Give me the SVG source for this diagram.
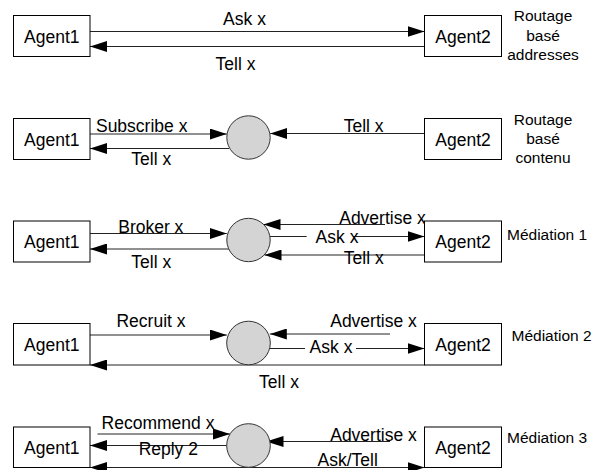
<svg xmlns="http://www.w3.org/2000/svg" width="594" height="470" viewBox="0 0 594 470">
  <defs>
    <marker id="arrow" markerUnits="userSpaceOnUse" markerWidth="17" markerHeight="11" refX="17" refY="5.5" orient="auto">
      <path d="M0,0 L17,5.5 L0,11 Z" fill="#000"/>
    </marker>
    <marker id="arrowStart" markerUnits="userSpaceOnUse" markerWidth="17" markerHeight="11" refX="0" refY="5.5" orient="auto">
      <path d="M17,0 L0,5.5 L17,11 Z" fill="#000"/>
    </marker>
  </defs>
  <style>
    .box { fill: #fff; stroke: #000; stroke-width: 1; }
    .hub { fill: #d4d4d4; stroke: #333; stroke-width: 1; }
    .edge { fill: none; stroke: #222; stroke-width: 1; }
    .arr { marker-end: url(#arrow); }
    .both { marker-start: url(#arrowStart); marker-end: url(#arrow); }
    text { font-family: "Liberation Sans", Arial, sans-serif; fill: #000; }
    .name { font-size: 17.5px; text-anchor: middle; }
    .lbl { font-size: 17.5px; text-anchor: middle; }
    .side { font-size: 15.5px; }
    .mid { text-anchor: middle; }
  </style>

  <!-- Connectors -->
  <g id="connectors">
    <!-- Routage basé addresses -->
    <line class="edge arr" x1="90" y1="31.5" x2="424.5" y2="31.5"/>
    <line class="edge arr" x1="424.5" y1="46.5" x2="90" y2="46.5"/>

    <!-- Routage basé contenu -->
    <line class="edge arr" x1="90" y1="134" x2="226.8" y2="134"/>
    <line class="edge arr" x1="229" y1="148.5" x2="90" y2="148.5"/>
    <line class="edge arr" x1="424.5" y1="133.5" x2="270.2" y2="133.5"/>

    <!-- Médiation 1 -->
    <line class="edge arr" x1="90" y1="233.5" x2="226.8" y2="233.5"/>
    <line class="edge arr" x1="229" y1="249" x2="90" y2="249"/>
    <line class="edge arr" x1="385" y1="224.5" x2="263.5" y2="224.5"/>
    <line class="edge" x1="270" y1="236.5" x2="306.7" y2="236.5"/>
    <line class="edge arr" x1="353" y1="236.5" x2="424.5" y2="236.5"/>
    <line class="edge arr" x1="424.5" y1="255" x2="264.5" y2="255"/>

    <!-- Médiation 2 -->
    <line class="edge arr" x1="90" y1="335" x2="226.8" y2="335"/>
    <line class="edge arr" x1="424.5" y1="365" x2="90" y2="365"/>
    <line class="edge arr" x1="390" y1="334" x2="269.8" y2="334"/>
    <line class="edge" x1="270" y1="348.5" x2="305" y2="348.5"/>
    <line class="edge arr" x1="356" y1="348.5" x2="424.5" y2="348.5"/>

    <!-- Médiation 3 -->
    <line class="edge arr" x1="97.5" y1="434" x2="230" y2="434"/>
    <line class="edge arr" x1="228" y1="445.5" x2="90" y2="445.5"/>
    <line class="edge both" x1="90" y1="467.5" x2="424.5" y2="467.5"/>
    <line class="edge arr" x1="390" y1="441.5" x2="266.5" y2="441.5"/>
  </g>

  <!-- Connector labels -->
  <g id="edge-labels">
    <text class="lbl" x="244.5" y="25">Ask x</text>
    <text class="lbl" x="235.5" y="69.5">Tell x</text>

    <text class="lbl" x="141.7" y="132">Subscribe x</text>
    <text class="lbl" x="151.3" y="165">Tell x</text>
    <text class="lbl" x="363.7" y="131.5">Tell x</text>

    <text class="lbl" x="150.8" y="233">Broker x</text>
    <text class="lbl" x="151.3" y="267.5">Tell x</text>
    <text class="lbl" x="382.5" y="224">Advertise x</text>
    <text class="lbl" x="337" y="242.5">Ask x</text>
    <text class="lbl" x="363.8" y="264.3">Tell x</text>

    <text class="lbl" x="151" y="327.3">Recruit x</text>
    <text class="lbl" x="279" y="388">Tell x</text>
    <text class="lbl" x="373.5" y="327">Advertise x</text>
    <text class="lbl" x="331" y="353.3">Ask x</text>

    <text class="lbl" x="158" y="429">Recommend x</text>
    <text class="lbl" x="168.3" y="454.5">Reply 2</text>
    <text class="lbl" x="347.7" y="466">Ask/Tell</text>
    <text class="lbl" x="373.5" y="441">Advertise x</text>
  </g>

  <!-- Row 1: Routage basé addresses -->
  <g id="r1-agent1"><rect class="box" x="13.5" y="15.5" width="76.5" height="41"/><text class="name" x="51.75" y="42.5">Agent1</text></g>
  <g id="r1-agent2"><rect class="box" x="424.5" y="15.5" width="77" height="41"/><text class="name" x="463" y="42.5">Agent2</text></g>
  <g id="r1-caption">
    <text class="side mid" x="543" y="21">Routage</text>
    <text class="side mid" x="543" y="40.5">basé</text>
    <text class="side mid" x="543" y="60">addresses</text>
  </g>

  <!-- Row 2: Routage basé contenu -->
  <g id="r2-agent1"><rect class="box" x="13.5" y="118.5" width="76.5" height="41"/><text class="name" x="51.75" y="145.5">Agent1</text></g>
  <g id="r2-hub"><circle class="hub" cx="248.5" cy="137.5" r="21.7"/></g>
  <g id="r2-agent2"><rect class="box" x="424.5" y="118.5" width="77" height="41"/><text class="name" x="463" y="145.5">Agent2</text></g>
  <g id="r2-caption">
    <text class="side mid" x="543" y="124.5">Routage</text>
    <text class="side mid" x="543" y="143.5">basé</text>
    <text class="side mid" x="543" y="163">contenu</text>
  </g>

  <!-- Row 3: Médiation 1 -->
  <g id="r3-agent1"><rect class="box" x="13.5" y="221" width="76.5" height="41"/><text class="name" x="51.75" y="248">Agent1</text></g>
  <g id="r3-hub"><circle class="hub" cx="248.5" cy="240" r="21.7"/></g>
  <g id="r3-agent2"><rect class="box" x="424.5" y="221" width="77" height="41"/><text class="name" x="463" y="248">Agent2</text></g>
  <g id="r3-caption"><text class="side" x="507" y="239.5">Médiation 1</text></g>

  <!-- Row 4: Médiation 2 -->
  <g id="r4-agent1"><rect class="box" x="13.5" y="323.5" width="76.5" height="41.5"/><text class="name" x="51.75" y="350.5">Agent1</text></g>
  <g id="r4-hub"><circle class="hub" cx="248.5" cy="343" r="21.8"/></g>
  <g id="r4-agent2"><rect class="box" x="424.5" y="323.5" width="77" height="41.5"/><text class="name" x="463" y="350.5">Agent2</text></g>
  <g id="r4-caption"><text class="side" x="511.5" y="341">Médiation 2</text></g>

  <!-- Row 5: Médiation 3 -->
  <g id="r5-agent1"><rect class="box" x="13.5" y="427" width="76.5" height="40.5"/><text class="name" x="51.75" y="454">Agent1</text></g>
  <g id="r5-hub"><circle class="hub" cx="248.5" cy="445.5" r="21.8"/></g>
  <g id="r5-agent2"><rect class="box" x="424.5" y="427" width="77" height="40.5"/><text class="name" x="463" y="454">Agent2</text></g>
  <g id="r5-caption"><text class="side" x="507" y="443">Médiation 3</text></g>
</svg>
